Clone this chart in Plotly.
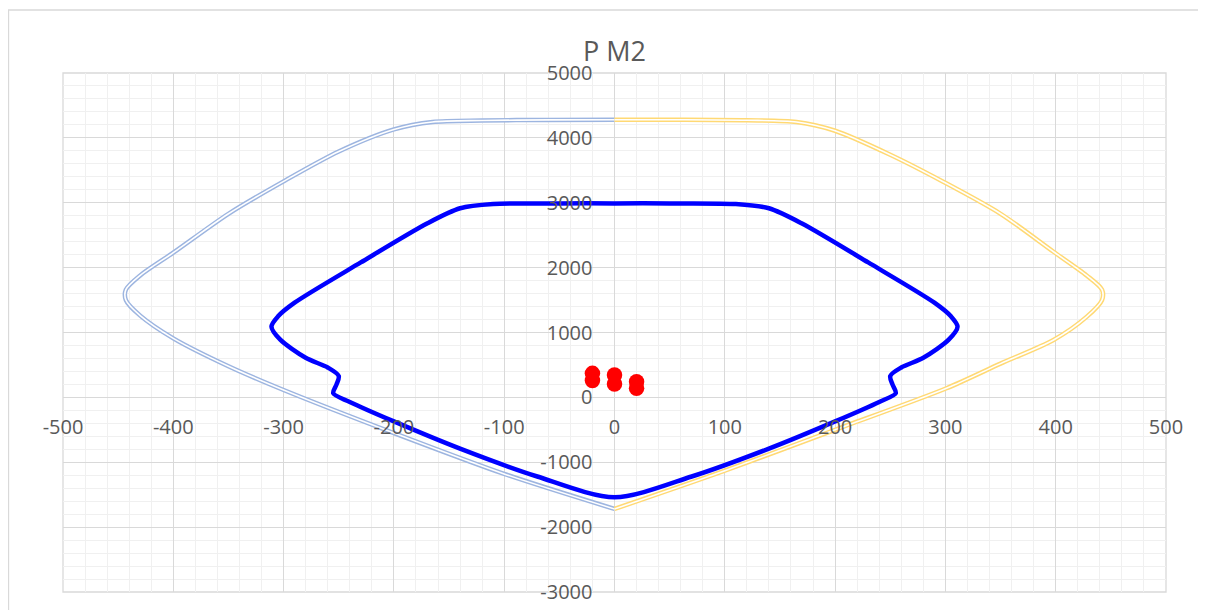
import plotly.graph_objects as go

# Outer envelope, left half (M, P)
outer_left_M = [0, -60, -120, -165, -200, -250, -300, -350, -400, -430, -443, -443, -430, -400, -350, -300, -200, -100, 0]
outer_left_P = [4280, 4277, 4268, 4245, 4130, 3790, 3330, 2830, 2230, 1880, 1660, 1500, 1260, 910, 480, 114, -550, -1180, -1720]

# Outer envelope, right half
outer_right_M = [0, 60, 120, 165, 200, 250, 298, 350, 398, 428, 442, 442, 428, 398, 350, 301, 200, 100, 0]
outer_right_P = [4280, 4280, 4272, 4245, 4110, 3740, 3324, 2830, 2245, 1880, 1660, 1500, 1240, 884, 520, 140, -500, -1130, -1720]

# Inner (design) envelope
inner_M = [0, -70, -140, -200, -240, -255, -252, -250, -260, -280, -303, -311, -305, -290, -230, -170, -140, -110, -50, 0,
           50, 110, 140, 170, 230, 290, 305, 311, 303, 280, 260, 250, 252, 255, 240, 200, 140, 70, 0]
inner_P = [-1540, -1220, -790, -370, -70, 63, 200, 330, 460, 610, 890, 1090, 1250, 1460, 2080, 2680, 2915, 2980, 2990, 2990,
           2990, 2980, 2915, 2680, 2080, 1460, 1250, 1090, 890, 610, 460, 330, 200, 63, -70, -370, -790, -1220, -1540]

# Load points
pts_M = [-20, -20, 0, 0, 20, 20]
pts_P = [370, 260, 345, 205, 240, 140]

# Tick labels (Excel style hyphen minus)
x_ticks = [-500, -400, -300, -200, -100, 0, 100, 200, 300, 400, 500]
x_labels = ['-500', '-400', '-300', '-200', '-100', '0', '100', '200', '300', '400', '500']
y_ticks = [-3000, -2000, -1000, 0, 1000, 2000, 3000, 4000, 5000]
y_labels = ['-3000', '-2000', '-1000', '0', '1000', '2000', '3000', '4000', '5000']

fig = go.Figure()

# double-line look: wide coloured line with a thin white line on top
for xs, ys, col in [(outer_left_M, outer_left_P, '#9DB5E0'), (outer_right_M, outer_right_P, '#FFD974')]:
    fig.add_trace(go.Scatter(x=xs, y=ys, mode='lines',
                             line=dict(color=col, width=4.5, shape='spline', smoothing=0.8)))
    fig.add_trace(go.Scatter(x=xs, y=ys, mode='lines',
                             line=dict(color='white', width=1.6, shape='spline', smoothing=0.8)))

fig.add_trace(go.Scatter(x=inner_M, y=inner_P, mode='lines',
                         line=dict(color='#0000FF', width=4.5, shape='spline', smoothing=0.8)))

fig.add_trace(go.Scatter(x=pts_M, y=pts_P, mode='markers',
                         marker=dict(color='#FF0000', size=15.5, line=dict(width=0))))

tick_font = dict(family='Open Sans', size=20, color='#595959')

fig.update_xaxes(range=[-500, 500], tickvals=x_ticks, ticktext=x_labels,
                 anchor='free', position=0.375, automargin=False,
                 showgrid=True, gridcolor='#D9D9D9', gridwidth=1.3,
                 minor=dict(dtick=20, tick0=0, showgrid=True, gridcolor='#F0F0F0', gridwidth=1.3),
                 zeroline=False, showline=False, ticks='',
                 ticklabelstandoff=16, tickfont=tick_font)
fig.update_yaxes(range=[-3000, 5000], tickvals=y_ticks, ticktext=y_labels,
                 anchor='free', position=0.5, automargin=False,
                 showgrid=True, gridcolor='#D9D9D9', gridwidth=1.3,
                 minor=dict(dtick=200, tick0=0, showgrid=True, gridcolor='#F0F0F0', gridwidth=1.3),
                 zeroline=False, showline=False, ticks='',
                 ticklabelstandoff=22, tickfont=tick_font)

# plot-area frame and outer chart border
fig.add_shape(type='rect', xref='paper', yref='paper', x0=0, x1=1, y0=0, y1=1,
              line=dict(color='#D9D9D9', width=1.3), layer='below')
fig.add_shape(type='rect', xref='paper', yref='paper', x0=-0.0494, x1=1.06, y0=-0.1, y1=1.1214,
              line=dict(color='#D9D9D9', width=1.3))

fig.update_layout(
    width=1198, height=602,
    margin=dict(l=55, r=40, t=65, b=18),
    paper_bgcolor='white', plot_bgcolor='white',
    showlegend=False,
    title=dict(text='P M2', x=0.5, xref='paper', xanchor='center',
               y=0.927, yanchor='middle',
               font=dict(family='Open Sans', size=27, color='#595959')),
)

fig.write_html("out.html")
